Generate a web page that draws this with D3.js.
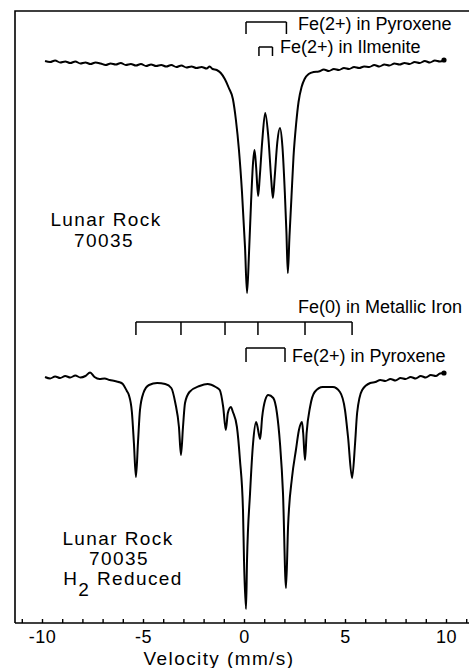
<!DOCTYPE html>
<html>
<head>
<meta charset="utf-8">
<script src="https://cdn.jsdelivr.net/npm/d3@7"></script>
<style>
  body { margin: 0; background: #fff; }
  svg text { font-family: "Liberation Sans", Arial, sans-serif; fill: #000; }
</style>
</head>
<body>
<div id="viz"></div>
<script>
// Mossbauer spectra of lunar rock 70035, before and after H2 reduction

// top spectrum: velocity (mm/s) and relative transmission (%)
const topVelocity = [
    -9.85, -9.6, -9.35, -9.1, -8.85, -8.6, -8.35, -8.1, -7.85, -7.6, -7.35, -7.1,
    -6.85, -6.6, -6.35, -6.1, -5.85, -5.6, -5.35, -5.1, -4.85, -4.6, -4.35, -4.1,
    -3.85, -3.6, -3.35, -3.1, -2.85, -2.6, -2.35, -2.1, -1.85, -1.7, -1.55, -1.35,
    -1.15, -0.95, -0.75, -0.55, -0.4, -0.25, -0.1, 0.05, 0.15, 0.25, 0.35, 0.45,
    0.52, 0.6, 0.7, 0.78, 0.9, 1.05, 1.2, 1.35, 1.43, 1.52, 1.65, 1.78,
    1.9, 2.02, 2.1, 2.17, 2.25, 2.35, 2.45, 2.58, 2.7, 2.85, 3.0, 3.2,
    3.45, 3.7, 3.95, 4.2, 4.45, 4.7, 4.95, 5.2, 5.45, 5.7, 5.95, 6.2,
    6.45, 6.7, 6.95, 7.2, 7.45, 7.7, 7.95, 8.2, 8.45, 8.7, 8.95, 9.2,
    9.45, 9.7, 9.9
];
const topTransmission = [
    100.1, 100.0, 100.15, 99.95, 100.05, 99.9, 100.05, 99.85, 99.95, 99.8, 99.95, 99.85,
    99.7, 99.85, 99.75, 99.9, 99.7, 99.8, 99.65, 99.8, 99.6, 99.75, 99.6, 99.7,
    99.55, 99.7, 99.5, 99.65, 99.45, 99.55, 99.4, 99.5, 99.35, 99.55, 99.3, 99.2,
    98.9, 98.3, 97.4, 96.3, 94.2, 91.2, 87.0, 81.5, 76.9, 81.0, 86.0, 90.0,
    91.2, 89.5, 86.6, 88.5, 92.0, 94.9, 92.6, 88.2, 86.4, 88.5, 92.0, 93.4,
    91.6, 87.0, 83.0, 78.9, 82.5, 86.5, 90.5, 93.8, 96.0, 97.5, 98.3, 98.8,
    99.0, 99.05, 99.25, 99.1, 99.3, 99.2, 99.4, 99.3, 99.5, 99.4, 99.55, 99.5,
    99.7, 99.55, 99.75, 99.65, 99.85, 99.75, 99.9, 99.8, 100.0, 99.9, 100.1, 99.95,
    100.15, 100.05, 100.2
];

// bottom spectrum (after H2 reduction)
const bottomVelocity = [
    -9.85, -9.6, -9.35, -9.1, -8.85, -8.6, -8.35, -8.1, -7.85, -7.62, -7.4, -7.15,
    -6.9, -6.65, -6.4, -6.2, -6.0, -5.8, -5.7, -5.55, -5.45, -5.35, -5.25, -5.15,
    -4.98, -4.7, -4.3, -3.9, -3.6, -3.4, -3.22, -3.12, -3.02, -2.92, -2.7, -2.2,
    -1.8, -1.4, -1.2, -1.03, -0.9, -0.8, -0.65, -0.55, -0.35, -0.2, -0.05, 0.0,
    0.1, 0.15, 0.3, 0.45, 0.6, 0.65, 0.8, 0.9, 1.05, 1.2, 1.45, 1.63,
    1.78, 1.93, 2.08, 2.18, 2.38, 2.57, 2.72, 2.87, 2.93, 3.02, 3.1, 3.27,
    3.5, 3.9, 4.4, 4.75, 5.0, 5.15, 5.35, 5.5, 5.6, 5.85, 6.25, 6.5,
    6.75, 7.0, 7.25, 7.5, 7.75, 8.0, 8.25, 8.5, 8.75, 9.0, 9.25, 9.5,
    9.7, 9.9
];
const bottomTransmission = [
    100.0, 99.85, 100.05, 99.9, 100.1, 99.95, 100.15, 99.95, 100.1, 100.45, 100.0, 99.8,
    99.85, 99.7, 99.6, 99.5, 99.3, 98.6, 98.2, 96.5, 93.4, 90.0, 93.4, 96.7,
    98.4, 99.2, 99.4, 99.3, 98.9, 97.4, 95.0, 92.2, 95.0, 97.4, 98.5, 99.1,
    99.3, 99.0, 98.7, 97.0, 94.7, 96.4, 97.0, 96.5, 95.0, 91.7, 86.7, 81.7,
    76.8, 81.7, 88.4, 93.4, 95.5, 95.2, 93.8, 96.0, 97.7, 98.2, 97.9, 96.4,
    93.4, 88.4, 78.9, 85.0, 90.0, 92.7, 94.7, 95.5, 94.4, 91.7, 94.4, 97.0,
    98.5, 99.0, 99.0, 98.5, 96.7, 94.0, 89.9, 93.4, 96.4, 98.7, 99.4, 99.5,
    99.7, 99.6, 99.8, 99.65, 99.9, 99.8, 100.0, 99.85, 100.1, 99.95, 100.2, 100.1,
    100.35, 100.4
];

// stick diagrams (line positions, mm/s)
const pyroxeneTop = [0.1, 2.1];
const ilmeniteTop = [0.74, 1.41];
const metallicIron = [-5.35, -3.12, -0.94, 0.69, 3.02, 5.35];
const pyroxeneBottom = [0.1, 2.03];

const tickLabels = [-10, -5, 0, 5, 10];
const minorTicks = d3.range(-11, 12);

const dimensions = {
    width: 469,
    height: 668,
    frame: { left: 15, top: 11, right: 469, bottom: 623 }
};

const svg = d3.select('#viz').append('svg')
    .attr('width', dimensions.width)
    .attr('height', dimensions.height);

const xScale = d3.scaleLinear()
    .domain([-10, 10])
    .range([42, 446]);

// 1 % transmission = 10 px, each panel has its own baseline
const yTop = d3.scaleLinear()
    .domain([75, 100])
    .range([312, 62]);

const yBottom = d3.scaleLinear()
    .domain([75, 100])
    .range([627, 377]);

// frame: top and left line
const f = dimensions.frame;
svg.append('path')
    .attr('d', `M${f.left},${f.bottom} L${f.left},${f.top} L${f.right},${f.top}`)
    .attr('fill', 'none')
    .attr('stroke', '#000')
    .attr('stroke-width', 1.6);

// velocity axis, ticks point up into the plot
const xAxis = svg.append('g')
    .attr('transform', `translate(0, ${f.bottom})`)
    .call(d3.axisBottom(xScale).tickValues(minorTicks).tickSize(-4).tickFormat(''));
xAxis.select('.domain')
    .attr('d', `M${f.left},0H${f.right}`)
    .attr('stroke-width', 1.6);
xAxis.selectAll('.tick line').attr('stroke-width', 1.4);

const labelAxis = svg.append('g')
    .attr('transform', `translate(0, ${f.bottom})`)
    .call(d3.axisBottom(xScale).tickValues(tickLabels).tickSize(0).tickPadding(7)
        .tickFormat(d => d < 0 ? '-' + Math.abs(d) : d));
labelAxis.select('.domain').remove();
labelAxis.selectAll('text')
    .style('font-size', '18px')
    .style('letter-spacing', '0.5px')
    .style('font-family', '"Liberation Sans", Arial, sans-serif')
    .attr('fill', '#000');

svg.append('text')
    .attr('x', 219)
    .attr('y', 665)
    .attr('text-anchor', 'middle')
    .style('font-size', '19px')
    .style('letter-spacing', '1.4px')
    .text('Velocity (mm/s)');

// spectra
function drawSpectrum(vel, trans, yScale) {
    const points = vel.map((v, i) => ({ v: v, t: trans[i] }));
    const line = d3.line()
        .x(d => xScale(d.v))
        .y(d => yScale(d.t))
        .curve(d3.curveMonotoneX);

    svg.append('path')
        .datum(points)
        .attr('d', line)
        .attr('fill', 'none')
        .attr('stroke', '#000')
        .attr('stroke-width', 2)
        .attr('stroke-linejoin', 'round');

    const last = points[points.length - 1];
    svg.append('circle')
        .attr('cx', xScale(last.v))
        .attr('cy', yScale(last.t))
        .attr('r', 2.6)
        .attr('fill', '#000');
}

drawSpectrum(topVelocity, topTransmission, yTop);
drawSpectrum(bottomVelocity, bottomTransmission, yBottom);

// bracket markers
function drawBracket(positions, yTopLine, yLeg) {
    const g = svg.append('g')
        .attr('fill', 'none')
        .attr('stroke', '#000')
        .attr('stroke-width', 1.5);
    g.append('line')
        .attr('x1', xScale(positions[0]))
        .attr('x2', xScale(positions[positions.length - 1]))
        .attr('y1', yTopLine)
        .attr('y2', yTopLine);
    g.selectAll('.leg')
        .data(positions)
        .enter()
        .append('line')
            .attr('class', 'leg')
            .attr('x1', d => xScale(d))
            .attr('x2', d => xScale(d))
            .attr('y1', yTopLine)
            .attr('y2', yLeg);
}

function label(x, y, txt, anchor) {
    svg.append('text')
        .attr('x', x)
        .attr('y', y)
        .attr('text-anchor', anchor || 'start')
        .style('font-size', '18px')
        .text(txt);
}

drawBracket(pyroxeneTop, 22, 34);
label(298, 30, 'Fe(2+) in Pyroxene');
drawBracket(ilmeniteTop, 47, 56);
label(280, 53, 'Fe(2+) in Ilmenite');

drawBracket(metallicIron, 322, 335);
label(462, 313, 'Fe(0) in Metallic Iron', 'end');
drawBracket(pyroxeneBottom, 348, 362);
label(292, 362, 'Fe(2+) in Pyroxene');

// sample names
function sampleText(x, y, txt) {
    return svg.append('text')
        .attr('x', x)
        .attr('y', y)
        .attr('text-anchor', 'middle')
        .style('font-size', '19px')
        .style('letter-spacing', '1.4px')
        .text(txt);
}

sampleText(106, 226, 'Lunar Rock');
sampleText(104, 247, '70035');

sampleText(118, 545, 'Lunar Rock');
sampleText(119, 565, '70035');
const h2 = sampleText(123, 585, '');
h2.append('tspan').text('H');
h2.append('tspan').attr('dy', 11).text('2');
h2.append('tspan').attr('dy', -11).text(' Reduced');
</script>
</body>
</html>
